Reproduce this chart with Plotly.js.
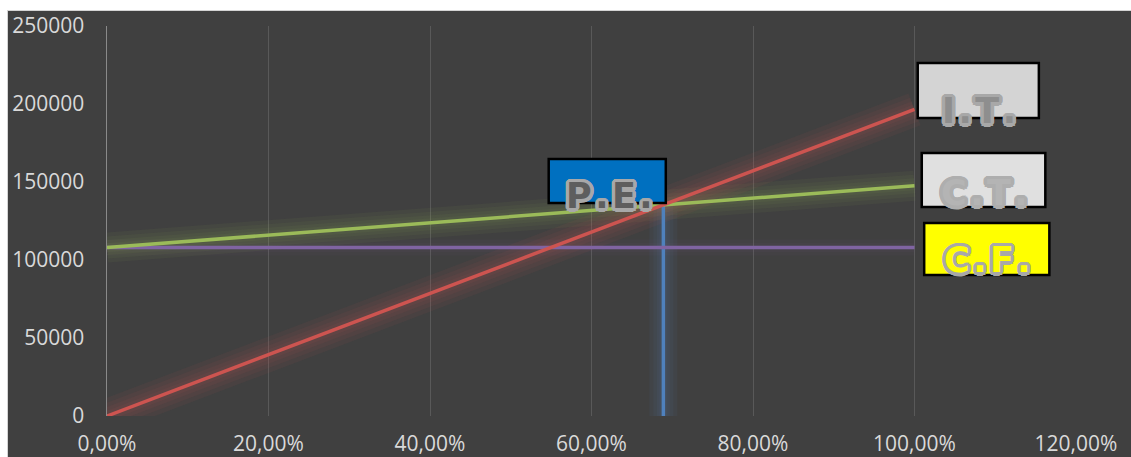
<!DOCTYPE html>
<html>
<head>
<meta charset="utf-8">
<script src="https://cdn.plot.ly/plotly-3.0.1.min.js"></script>
<style>
  html, body { margin: 0; padding: 0; background: #ffffff; }
  #wrap { position: absolute; left: 7px; top: 10px; border-left: 1px solid #d4d4d4; border-top: 1px solid #d4d4d4; }
  #chart { width: 1123px; height: 446px; }
</style>
</head>
<body>
<div id="wrap"><div id="chart"></div></div>
<script>
// ---- data ----
const occupancy = [0, 1.0];                // x: % of capacity
const totalIncome = [0, 196500];           // I.T.
const totalCost = [108000, 147600];        // C.T.
const fixedCost = [108000, 108000];        // C.F.
const breakEvenX = [0.689, 0.689];         // P.E. vertical line
const breakEvenY = [0, 135300];
const labelPE = 'P.E.';
const labelIT = 'I.T.';
const labelCT = 'C.T.';
const labelCF = 'C.F.';

const RED = '#cd5450', GREEN = '#9bbb59', PURPLE = '#8064a2', BLUE = '#4f81bd';

function glows(x, y, color, widths, op) {
  return widths.map(w => ({ x: x, y: y, mode: 'lines', line: { color: color, width: w }, opacity: op, hoverinfo: 'skip', showlegend: false }));
}
function main(x, y, color, name) {
  return { x: x, y: y, mode: 'lines', name: name, line: { color: color, width: 3.5 }, showlegend: false };
}

const traces = [].concat(
  glows(breakEvenX, breakEvenY, BLUE, [28, 20, 13, 8], 0.07),
  glows(occupancy, fixedCost, PURPLE, [16, 9], 0.05),
  glows(occupancy, totalCost, GREEN, [30, 22, 15, 9], 0.06),
  glows(occupancy, totalIncome, RED, [34, 25, 17, 10], 0.07),
  [
    main(breakEvenX, breakEvenY, BLUE, labelPE),
    main(occupancy, fixedCost, PURPLE, labelCF),
    main(occupancy, totalCost, GREEN, labelCT),
    main(occupancy, totalIncome, RED, labelIT)
  ]
);

const outline = (c, r) => {
  const s = [];
  const n = 16;
  for (let i = 0; i < n; i++) {
    const a = 2 * Math.PI * i / n;
    s.push((r * Math.cos(a)).toFixed(1) + 'px ' + (r * Math.sin(a)).toFixed(1) + 'px 0 ' + c);
  }
  return s.join(', ');
};

function box(x0, x1, y0, y1, fill) {
  return { type: 'rect', xref: 'x', yref: 'y', x0: x0, x1: x1, y0: y0, y1: y1,
    fillcolor: fill, line: { color: '#000000', width: 2.5 }, layer: 'above' };
}
const HS = '\u200A';
function label(text, x, y, color, edge) {
  return { text: '<b>' + text.split('').join(HS) + '</b>', x: x, y: y, xref: 'x', yref: 'y', showarrow: false,
    xanchor: 'center', yanchor: 'middle',
    font: { family: 'DejaVu Sans', size: 35, color: color, shadow: outline(edge, 3.5) } };
}

const layout = {
  width: 1123, height: 446,
  paper_bgcolor: '#404040', plot_bgcolor: '#404040',
  margin: { l: 99, r: 55, t: 15, b: 41 },
  separators: ',.',
  showlegend: false,
  font: { family: 'Open Sans', size: 21, color: '#d9d9d9' },
  xaxis: {
    range: [0, 1.2], autorange: false, tickvals: [0, 0.2, 0.4, 0.6, 0.8, 1.0, 1.2], tickformat: '.2%',
    showgrid: true, gridcolor: '#595959', gridwidth: 1, zeroline: false, showline: false,
    ticks: '', ticklabelstandoff: 13, tickfont: { family: 'Open Sans', size: 21, color: '#d9d9d9' }
  },
  yaxis: {
    range: [0, 250000], autorange: false, tickvals: [0, 50000, 100000, 150000, 200000, 250000], tickformat: 'd',
    showgrid: false, zeroline: false, showline: true, linecolor: '#8a8a8a', linewidth: 1.5,
    ticks: '', ticklabelstandoff: 17, tickfont: { family: 'Open Sans', size: 21, color: '#d9d9d9' }
  },
  shapes: [
    box(0.547, 0.692, 136500, 164700, '#0070c0'),
    box(1.004, 1.154, 191000, 226300, '#d4d4d4'),
    box(1.009, 1.162, 134000, 168600, '#e0e0e0'),
    box(1.012, 1.167, 90400, 123700, '#ffff00')
  ],
  annotations: [
    label(labelPE, 0.622, 141000, '#5e5e5e', '#a8a8a8'),
    label(labelIT, 1.080, 195500, '#8e8e8e', '#a8a8a8'),
    label(labelCT, 1.087, 143000, '#b4b4b4', '#aeaeae'),
    label(labelCF, 1.091, 100000, '#ffff00', '#a8a8a8')
  ]
};

Plotly.newPlot('chart', traces, layout, { displayModeBar: false, staticPlot: true });
</script>
</body>
</html>
